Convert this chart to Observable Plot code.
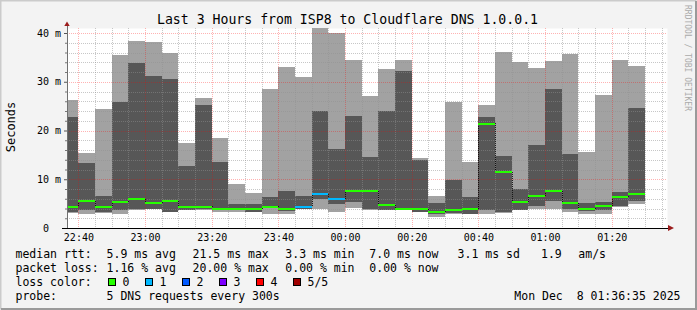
<!DOCTYPE html>
<html><head><meta charset="utf-8">
<script src="https://cdn.jsdelivr.net/npm/d3@7"></script>
<script src="https://cdn.jsdelivr.net/npm/@observablehq/plot@0.6"></script>
<style>
html,body{margin:0;padding:0;background:#f3f3f3;}
#chart{width:697px;height:310px;position:relative;}
</style></head><body><div id="chart"></div>
<script>
// ---- data (ms) ----
const barStarts = ["22:35","22:40","22:45","22:50","22:55","23:00","23:05","23:10","23:15","23:20","23:25","23:30","23:35","23:40","23:45","23:50","23:55","00:00","00:05","00:10","00:15","00:20","00:25","00:30","00:35","00:40","00:45","00:50","00:55","01:00","01:05","01:10","01:15","01:20","01:25"];
const minRtt    = [3.1,2.9,3.0,2.9,3.75,4.0,3.35,3.75,3.75,3.3,3.3,3.3,2.9,2.9,3.8,3.9,3.3,4.2,3.6,3.75,3.75,3.3,2.3,2.8,2.9,2.9,3.1,3.75,3.9,3.9,3.35,2.9,2.9,4.4,5.0];
const lowRtt    = [3.35,3.75,3.35,3.75,3.8,4.0,3.35,3.75,4.0,3.75,3.6,3.3,4.2,3.55,3.8,5.9,4.9,5.3,3.8,3.75,3.75,3.3,2.8,3.0,2.9,3.75,3.35,3.75,4.5,5.6,3.9,3.5,3.75,4.5,5.6];
const medianRtt = [4.5,5.6,4.5,5.4,6.0,5.2,5.6,4.5,4.5,4.1,3.9,3.9,4.5,4.1,4.5,7.0,6.0,7.6,7.6,4.8,4.0,4.0,3.3,3.75,4.0,21.5,11.5,5.4,6.6,7.65,5.2,4.0,4.6,6.4,7.0];
const highRtt   = [22.8,13.3,6.6,25.8,33.8,31.2,30.6,12.7,25.2,13.5,4.9,4.9,6.3,7.6,6.6,24.0,16.2,23.0,14.6,24.0,32.2,13.9,5.2,9.85,6.4,22.8,14.8,8.0,17.0,28.5,15.2,5.1,5.3,7.4,24.6];
const maxRtt    = [26.3,15.4,24.4,35.5,38.4,38.2,35.9,17.4,26.7,18.5,9.0,7.2,28.5,33.0,31.0,41.0,40.0,34.5,27.1,32.6,34.5,14.4,6.6,25.8,13.5,25.2,36.1,34.0,32.8,34.3,35.7,15.6,27.3,34.5,33.2];
const lostPings = [0,0,0,0,0,0,0,0,0,0,0,0,0,0,1,1,1,0,0,0,0,0,0,0,0,0,0,0,0,0,0,0,0,0,0];
const lossLabels = ["0","1","2","3","4","5/5"];
const lossColors = ["#26ff00","#00b8ff","#0059ff","#7e00ff","#ff0000","#a00000"];
const yTickValues = [0,10,20,30,40];
const titleText = "Last 3 Hours from ISP8 to Cloudflare DNS 1.0.0.1";
const statLines = [
  ["median rtt:", "5.9 ms avg", "21.5 ms max", "3.3 ms min", "7.0 ms now", "3.1 ms sd", "1.9", "am/s"],
  ["packet loss:", "1.16 % avg", "20.00 % max", "0.00 % min", "0.00 % now"]
];
const probeText = "5 DNS requests every 300s";
const stampText = "Mon Dec  8 01:36:35 2025";

// ---- build ----
const toDate = s => { const [h,m] = s.split(":").map(Number); return new Date(Date.UTC(2025, 11, h >= 12 ? 7 : 8, h, m)); };
const start = new Date(Date.UTC(2025,11,7,22,36,35));
const end = new Date(Date.UTC(2025,11,8,1,36,35));
const rows = barStarts.map((s,i) => {
  const t = toDate(s);
  return {start: t, end: new Date(+t + 300000), min: minRtt[i], low: lowRtt[i], med: medianRtt[i],
          high: highRtt[i], max: maxRtt[i], prev: i > 0 ? medianRtt[i-1] : medianRtt[i], color: lossColors[lostPings[i]]};
});
const majorX = d3.utcMinute.every(20).range(start, end);
const minorX = d3.utcMinute.every(5).range(start, end).filter(d => d.getUTCMinutes() % 20 !== 0);
const minorY = d3.range(2, 41, 2).filter(v => v % 10 !== 0);
const majorY = yTickValues.filter(v => v > 0);
const yTop = 200 / 4.875;
const F = "'DejaVu Sans Mono', monospace";

const chart = Plot.plot({
  width: 697, height: 310,
  marginLeft: 67, marginRight: 30, marginTop: 28, marginBottom: 82,
  x: {type: "utc", domain: [start, end], label: null},
  y: {domain: [0, yTop], label: null},
  color: {type: "identity"},
  style: {background: "#f3f3f3", fontFamily: F, fontSize: "10px", color: "#000", overflow: "visible"},
  marks: [
    Plot.frame({fill: "white", stroke: "none"}),
    Plot.rect(rows, {x1: "start", x2: "end", y1: "min", y2: "max", fill: "#a2a2a2", clip: true, shapeRendering: "crispEdges"}),
    Plot.rect(rows, {x1: "start", x2: "end", y1: "low", y2: "high", fill: "#575757", clip: true, shapeRendering: "crispEdges"}),
    Plot.gridX(minorX, {stroke: "#8f8f8f", strokeOpacity: 0.5, strokeDasharray: "1,1", shapeRendering: "crispEdges"}),
    Plot.gridY(minorY, {stroke: "#8f8f8f", strokeOpacity: 0.5, strokeDasharray: "1,1", shapeRendering: "crispEdges"}),
    Plot.gridX(majorX, {stroke: "#ff0000", strokeOpacity: 0.3, strokeDasharray: "1,1", shapeRendering: "crispEdges"}),
    Plot.gridY(majorY, {stroke: "#ff0000", strokeOpacity: 0.3, strokeDasharray: "1,1", shapeRendering: "crispEdges"}),
    Plot.ruleX(rows.slice(1), {x: "start", y1: "prev", y2: "med", stroke: "#000", strokeOpacity: 0.8, strokeDasharray: "1,1", shapeRendering: "crispEdges"}),
    Plot.ruleY(rows, {y: "med", x1: "start", x2: "end", stroke: "color", strokeWidth: 2, clip: true, shapeRendering: "crispEdges"}),
    Plot.axisY(yTickValues, {tickSize: 3, tickPadding: 3.5, tickFormat: d => d === 0 ? "0\u00a0\u00a0" : d + " m", label: null, stroke: "#555"}),
    Plot.axisY(minorY, {tickSize: 2, tickFormat: () => "", label: null, stroke: "#777"}),
    Plot.axisX(majorX, {tickSize: 0, tickPadding: 5.5, tickFormat: d3.utcFormat("%H:%M"), label: null})
  ]
});
document.getElementById("chart").appendChild(chart);

const svg = d3.select(chart);
const xs = chart.scale("x"), ys = chart.scale("y");
const L = xs.apply(start), R = xs.apply(end), B = ys.apply(0), T = ys.apply(yTop);
// axes lines + arrows
svg.append("line").attr("x1", L).attr("x2", L).attr("y1", B).attr("y2", T - 2).attr("stroke", "#707070").attr("shape-rendering","crispEdges");
svg.append("line").attr("x1", L - 5).attr("x2", R + 1).attr("y1", B).attr("y2", B).attr("stroke", "#000").attr("shape-rendering","crispEdges");
svg.append("path").attr("d", `M${L-2.7},${T-2}L${L+2.7},${T-2}L${L},${T-6.5}Z`).attr("fill", "#9b1c1c");
svg.append("path").attr("d", `M${R+1},${B-3}L${R+1},${B+3}L${R+7},${B}Z`).attr("fill", "#9b1c1c");

// border shade
svg.append("path").attr("d", "M0.5,309.5V0.5H696.5").attr("fill","none").attr("stroke","#cbcbcb").attr("stroke-width",2);
svg.append("path").attr("d", "M1,309H696V1").attr("fill","none").attr("stroke","#9a9a9a").attr("stroke-width",2);

const addText = (x, y, s, size, anchor = "start") =>
  svg.append("text").attr("x", x).attr("y", y).attr("text-anchor", anchor).attr("font-family", F)
     .attr("font-size", size).attr("fill", "#000").style("white-space", "pre").text(s);

// title, y-label, watermark
addText(347.5, 24, titleText, 13.2, "middle");
svg.append("text").attr("transform", "translate(15,127) rotate(-90)").attr("text-anchor", "middle").attr("font-family", F).attr("font-size", 12).attr("fill","#000").text("Seconds");
svg.append("text").attr("transform", "translate(684.5,5) rotate(90)").attr("text-anchor", "start").attr("font-family", F).attr("font-size", 8).attr("fill", "#aaaaaa").text("RRDTOOL / TOBI OETIKER");

// legend
const colX = [15.5, 106.6, 192.6, 285.3, 369.3, 457.6, 541, 578.3];
const lineY = [257.7, 271.7, 285.7, 299.5];
statLines.forEach((line, li) => line.forEach((s, ci) => addText(colX[ci], lineY[li], s, 11.5)));
addText(colX[0], lineY[2], "loss color:", 11.5);
lossLabels.forEach((lab, i) => {
  const bx = 108.5 + i * 37;
  svg.append("rect").attr("x", bx).attr("y", 278.5).attr("width", 7).attr("height", 7).attr("fill", lossColors[i]).attr("stroke", "#000").attr("stroke-width", 1);
  addText(bx + 14, lineY[2], lab, 11.5);
});
addText(colX[0], lineY[3], "probe:", 11.5);
addText(colX[1], lineY[3], probeText, 11.5);
addText(680.5, lineY[3], stampText, 11.5, "end");
</script>
</body></html>
